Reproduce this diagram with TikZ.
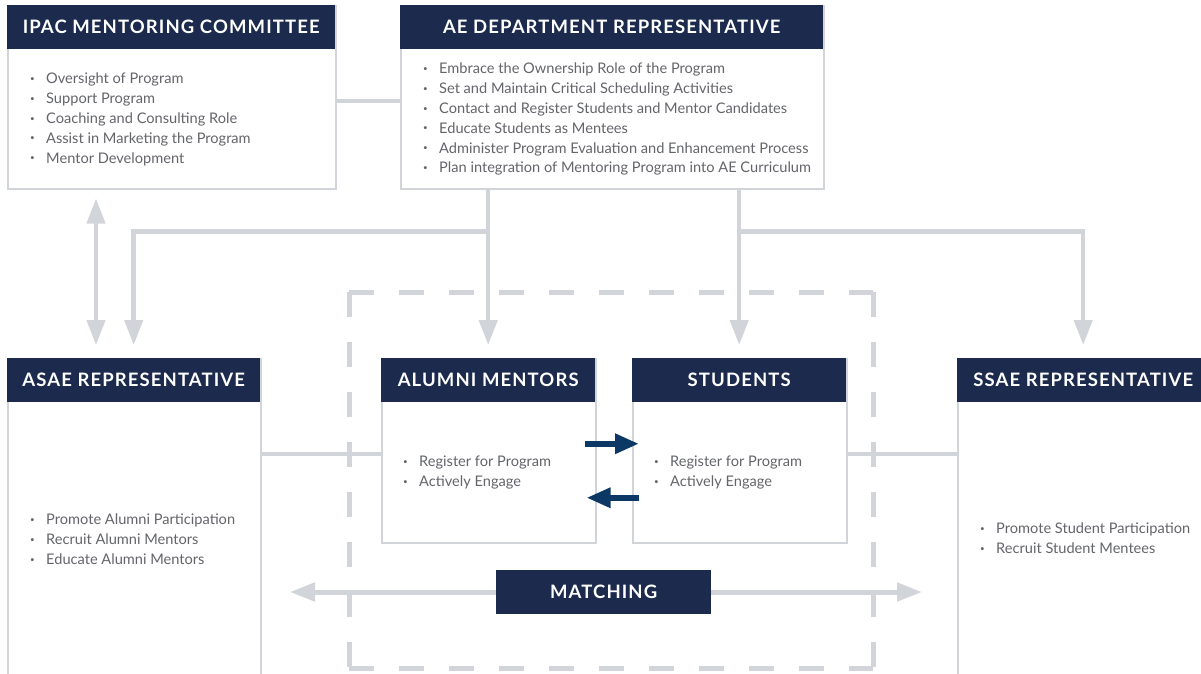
\documentclass[tikz,border=0pt]{standalone}
\usepackage{fontspec}
\setmainfont{Lato}
\newfontfamily\headfont{Lato}[LetterSpace=6]
\usetikzlibrary{arrows.meta,positioning}
\definecolor{navy}{RGB}{27,42,77}
\definecolor{linegray}{RGB}{209,212,217}
\definecolor{txtgray}{RGB}{100,101,106}
\definecolor{arrowblue}{RGB}{12,56,102}
\newcommand{\itm}[1]{\makebox[16pt][l]{\raisebox{2.5pt}{\fontsize{8}{8}\selectfont\textbullet}}#1}
\tikzset{
  panel/.style={draw=linegray, line width=1.5pt, fill=white, anchor=north west, inner sep=0pt},
  head/.style={fill=navy, text=white, anchor=north west, inner sep=0pt, minimum height=44pt,
    font=\headfont\fontsize{18.5}{18.5}\selectfont\bfseries},
  items/.style={anchor=north west, inner sep=0pt, align=left, text=txtgray,
    font=\fontsize{14.6}{19.8}\selectfont},
  link/.style={draw=linegray, line width=4.5pt},
  flow/.style={draw=linegray, line width=4.5pt, -{Triangle[length=25pt,width=18pt]}},
  biflow/.style={draw=linegray, line width=4.5pt, {Triangle[length=25pt,width=18pt]}-{Triangle[length=25pt,width=18pt]}},
  swap/.style={draw=arrowblue, line width=6.5pt, -{Triangle[length=24pt,width=19pt]}},
  frame/.style={draw=linegray, line width=5pt, dash pattern=on 25pt off 25pt},
}
\begin{document}
\begin{tikzpicture}[x=1pt, y=-1pt, line join=miter]
\useasboundingbox (0,0) rectangle (1201,673);

% dashed frame round the mentoring pair
\coordinate (frame-nw) at (349,292);
\coordinate (frame-se) at (873,668);
\draw[frame] (frame-nw) -- (frame-nw -| frame-se);
\draw[frame] (frame-nw) -- (frame-nw |- frame-se);
\draw[frame] (frame-nw -| frame-se) -- (frame-se);
\draw[frame] (frame-nw |- frame-se) -- (frame-se);

% top row
\node[panel, minimum width=328pt, minimum height=183pt] (ipac) at (7,5) {};
\node[head, minimum width=328pt] (ipac-head) at (ipac.north west) {IPAC MENTORING COMMITTEE};
\node[items] (ipac-list) at (30,73) {\itm{Oversight of Program}\\ \itm{Support Program}\\
  \itm{Coaching and Consulting Role}\\ \itm{Assist in Marketing the Program}\\ \itm{Mentor Development}};

\node[panel, minimum width=423pt, minimum height=183pt] (ae) at (400,5) {};
\node[head, minimum width=423pt] (ae-head) at (ae.north west) {AE DEPARTMENT REPRESENTATIVE};
\node[items] (ae-list) at (423,63) {\itm{Embrace the Ownership Role of the Program}\\
  \itm{Set and Maintain Critical Scheduling Activities}\\
  \itm{Contact and Register Students and Mentor Candidates}\\
  \itm{Educate Students as Mentees}\\
  \itm{Administer Program Evaluation and Enhancement Process}\\
  \itm{Plan integration of Mentoring Program into AE Curriculum}};

% bottom row
\node[panel, minimum width=253pt, minimum height=330pt] (asae) at (7,358) {};
\node[head, minimum width=253pt] (asae-head) at (asae.north west) {ASAE REPRESENTATIVE};
\node[items] (asae-list) at (30,514) {\itm{Promote Alumni Participation}\\
  \itm{Recruit Alumni Mentors}\\ \itm{Educate Alumni Mentors}};

\node[panel, minimum width=214pt, minimum height=184pt] (am) at (381,358) {};
\node[head, minimum width=214pt] (am-head) at (am.north west) {ALUMNI MENTORS};
\node[items] (am-list) at (403,456) {\itm{Register for Program}\\ \itm{Actively Engage}};

\node[panel, minimum width=214pt, minimum height=184pt] (st) at (632,358) {};
\node[head, minimum width=214pt] (st-head) at (st.north west) {STUDENTS};
\node[items] (st-list) at (654,456) {\itm{Register for Program}\\ \itm{Actively Engage}};

\node[panel, minimum width=252pt, minimum height=330pt] (ssae) at (957,358) {};
\node[head, minimum width=252pt] (ssae-head) at (ssae.north west) {SSAE REPRESENTATIVE};
\node[items] (ssae-list) at (980,523) {\itm{Promote Student Participation}\\
  \itm{Recruit Student Mentees}};

% connectors
\draw[link] ([yshift=-3.5pt]ipac.east) -- ([yshift=-3.5pt]ipac.east -| ae.west);
\draw[link] ([yshift=-3pt]am.west) -- ([yshift=-3pt]am.west -| asae.east);
\draw[link] ([yshift=-3pt]st.east) -- ([yshift=-3pt]st.east -| ssae.west);

\path (ae.south -| am-head.north) ++(0,42) coordinate (fork-am);
\path (ae.south -| st-head.north) ++(0,42) coordinate (fork-st);
\draw[flow] (ae.south -| am-head.north) -- ([yshift=13pt]am-head.north);
\draw[flow] (ae.south -| st-head.north) -- ([yshift=13pt]st-head.north);
\draw[flow] (fork-am) -| ([yshift=13pt]asae-head.north);
\draw[flow] (fork-st) -| ([yshift=13pt]ssae-head.north);
\draw[biflow] ([xshift=89pt,yshift=-9pt]ipac.south west) -- ([xshift=89pt,yshift=13pt]asae.north west);

\draw[swap] ([xshift=-12pt,yshift=7pt]am.east) -- ([xshift=7pt,yshift=7pt]st.west);
\draw[swap] ([xshift=7pt,yshift=-47pt]st.west) -- ([xshift=-10pt,yshift=-47pt]am.east);

% matching
\coordinate (match-l) at (290,592);
\coordinate (match-r) at (922,592);
\draw[biflow, line width=5pt] (match-l) -- (match-r);
\node[head, minimum width=215pt] (match) at (496,570) {MATCHING};
\end{tikzpicture}
\end{document}
